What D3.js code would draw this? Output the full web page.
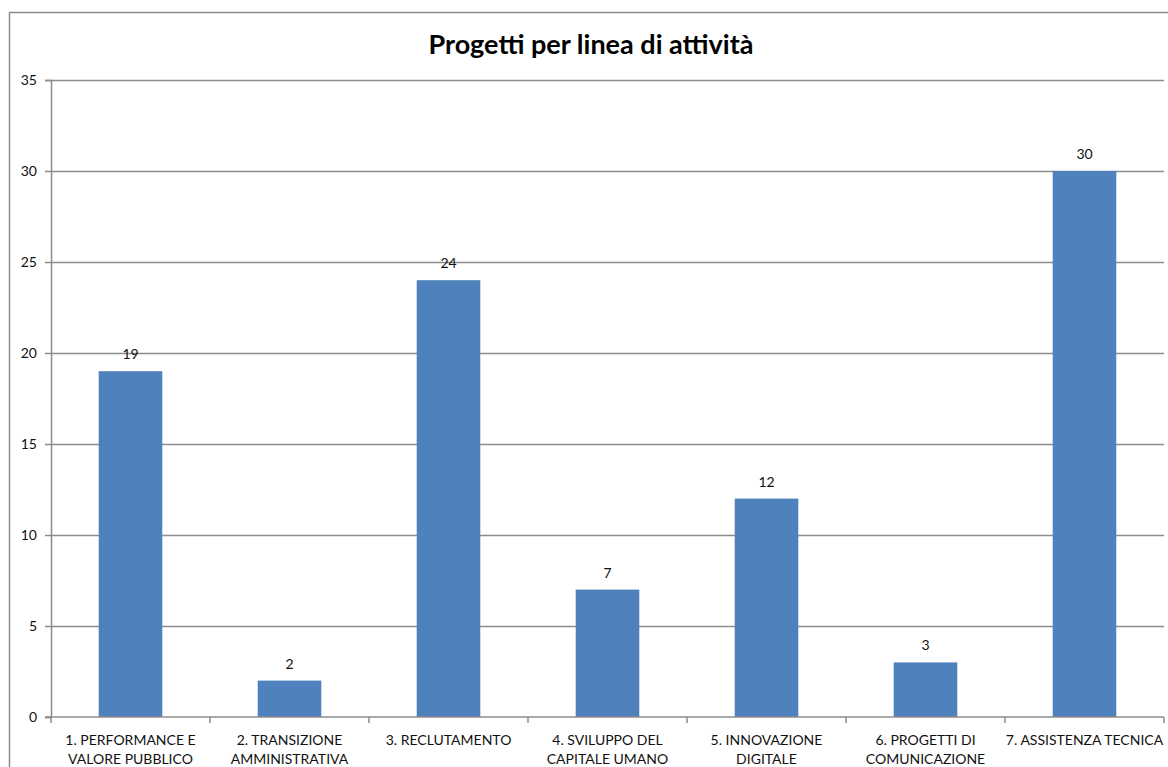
<!DOCTYPE html>
<html>
<head>
<meta charset="utf-8">
<script src="https://cdn.jsdelivr.net/npm/d3@7"></script>
<style>
  body { margin: 0; background: #fff; }
  svg { display: block; font-family: Lato, "Open Sans", sans-serif; }
</style>
</head>
<body>
<div id="chart"></div>
<script>
// chart data
var categories = [
  ['1. PERFORMANCE E', 'VALORE PUBBLICO'],
  ['2. TRANSIZIONE', 'AMMINISTRATIVA'],
  ['3. RECLUTAMENTO'],
  ['4. SVILUPPO DEL', 'CAPITALE UMANO'],
  ['5. INNOVAZIONE', 'DIGITALE'],
  ['6. PROGETTI DI', 'COMUNICAZIONE'],
  ['7. ASSISTENZA TECNICA']
];
var values = [19, 2, 24, 7, 12, 3, 30];
var yTicks = [0, 5, 10, 15, 20, 25, 30, 35];
var title = 'Progetti per linea di attività';

var width = 1168, height = 767;
var margin = {left: 51, right: 4, top: 80, bottom: 50};

var svg = d3.select('#chart').append('svg')
  .attr('width', width)
  .attr('height', height);

// outer frame (right and bottom edges fall outside the picture)
svg.append('path')
  .attr('d', 'M9.5,' + height + 'V12.5H' + width)
  .style('fill', 'none')
  .style('stroke', '#8c8c8c')
  .style('stroke-width', 1.5);

var x = d3.scaleBand()
  .domain(d3.range(categories.length))
  .range([margin.left, width - margin.right])
  .paddingInner(0.6)
  .paddingOuter(0.3);

var y = d3.scaleLinear()
  .domain([0, 35])
  .range([height - margin.bottom, margin.top]);

// gridlines
svg.selectAll('.grid')
  .data(yTicks.slice(1))
  .enter()
  .append('line')
  .attr('class', 'grid')
  .attr('x1', margin.left)
  .attr('x2', width - margin.right)
  .attr('y1', function (d) { return Math.round(y(d)) + 0.5; })
  .attr('y2', function (d) { return Math.round(y(d)) + 0.5; })
  .style('stroke', '#8c8c8c')
  .style('stroke-width', 1.5);

// bars
svg.selectAll('.bar')
  .data(values)
  .enter()
  .append('rect')
  .attr('class', 'bar')
  .attr('x', function (d, i) { return x(i); })
  .attr('width', x.bandwidth())
  .attr('y', function (d) { return y(d); })
  .attr('height', function (d) { return y(0) - y(d); })
  .style('fill', '#4f81bd');

// value labels
svg.selectAll('.val')
  .data(values)
  .enter()
  .append('text')
  .attr('class', 'val')
  .attr('x', function (d, i) { return x(i) + x.bandwidth() / 2; })
  .attr('y', function (d) { return y(d) - 12; })
  .attr('text-anchor', 'middle')
  .style('font-size', '14px')
  .style('fill', '#111')
  .text(function (d) { return d; });

// y axis
var yAxis = svg.append('g')
  .attr('transform', 'translate(' + margin.left + ',0)')
  .call(d3.axisLeft(y).tickValues(yTicks).tickSize(6).tickPadding(8));
yAxis.select('.domain').style('stroke', '#8c8c8c').style('stroke-width', 1.5);
yAxis.selectAll('.tick line').style('stroke', '#8c8c8c').style('stroke-width', 1.5);
yAxis.selectAll('.tick text').style('font-size', '14px').style('fill', '#111')
  .style('font-family', 'Lato, "Open Sans", sans-serif');

// x axis with boundary ticks between categories
var bounds = d3.range(categories.length + 1).map(function (i) {
  return margin.left + i * (width - margin.right - margin.left) / categories.length;
});
var xAxisG = svg.append('g').attr('class', 'xaxis');
xAxisG.append('line')
  .attr('x1', margin.left - 6)
  .attr('x2', width - margin.right)
  .attr('y1', y(0))
  .attr('y2', y(0))
  .style('stroke', '#8c8c8c')
  .style('stroke-width', 1.5);
xAxisG.selectAll('.xtick')
  .data(bounds)
  .enter()
  .append('line')
  .attr('class', 'xtick')
  .attr('x1', function (d) { return d; })
  .attr('x2', function (d) { return d; })
  .attr('y1', y(0))
  .attr('y2', y(0) + 6)
  .style('stroke', '#8c8c8c')
  .style('stroke-width', 1.5);

var labels = xAxisG.selectAll('.xlabel')
  .data(categories)
  .enter()
  .append('text')
  .attr('class', 'xlabel')
  .attr('text-anchor', 'middle')
  .style('font-size', '14px')
  .style('fill', '#111');
labels.selectAll('tspan')
  .data(function (d, i) { return d.map(function (t) { return {t: t, i: i}; }); })
  .enter()
  .append('tspan')
  .attr('x', function (d) { return x(d.i) + x.bandwidth() / 2; })
  .attr('y', function (d, j) { return y(0) + 28 + j * 19; })
  .text(function (d) { return d.t; });

// title
svg.append('text')
  .attr('x', 591)
  .attr('y', 54)
  .attr('text-anchor', 'middle')
  .style('font-size', '27px')
  .style('font-weight', 'bold')
  .style('fill', '#000')
  .text(title);
</script>
</body>
</html>
